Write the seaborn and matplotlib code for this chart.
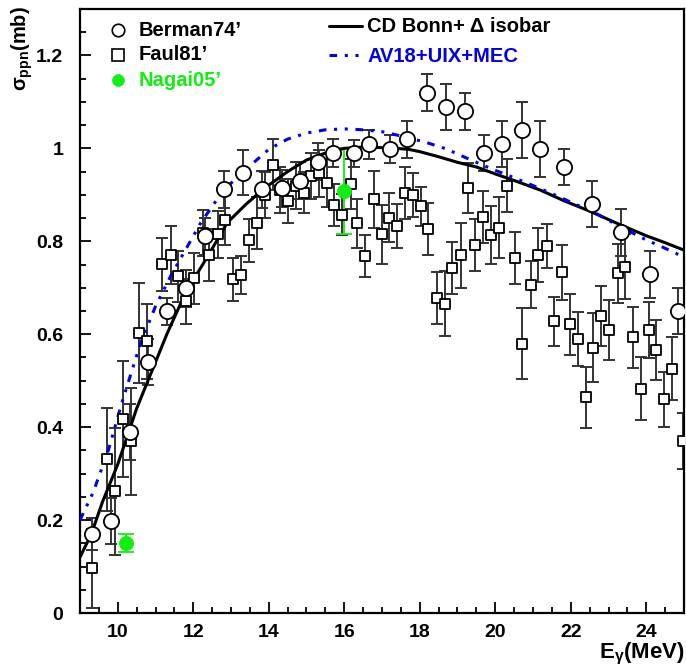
import numpy as np
import pandas as pd
import matplotlib
matplotlib.use("Agg")
import matplotlib.pyplot as plt
import seaborn as sns

# ---------------- data ----------------
berman_x = [9.31, 9.81, 10.32, 10.80, 11.30, 11.80, 12.30, 12.81, 13.31, 13.81,
            14.34, 14.82, 15.31, 15.69, 16.25, 16.66, 17.22, 17.67, 18.20, 18.69,
            19.21, 19.71, 20.19, 20.70, 21.18, 21.83, 22.57, 23.33, 24.09, 24.83]
berman_y = [0.170, 0.198, 0.390, 0.540, 0.649, 0.699, 0.811, 0.912, 0.948, 0.912,
            0.914, 0.930, 0.971, 0.990, 0.989, 1.009, 0.999, 1.020, 1.120, 1.089,
            1.080, 0.990, 1.010, 1.039, 0.999, 0.960, 0.880, 0.819, 0.729, 0.650]
berman_err = [0.035, 0.05, 0.06, 0.05, 0.03, 0.04, 0.04, 0.04, 0.049, 0.04,
              0.04, 0.04, 0.04, 0.03, 0.03, 0.031, 0.03, 0.04, 0.04, 0.05,
              0.04, 0.038, 0.049, 0.06, 0.06, 0.039, 0.049, 0.05, 0.05, 0.05]

faul_x = [9.31, 9.72, 9.92, 10.14, 10.34, 10.56, 10.78, 11.18, 11.40, 11.60,
          11.80, 12.01, 12.26, 12.43, 12.66, 12.84, 13.06, 13.27, 13.48, 13.69,
          13.90, 14.10, 14.31, 14.51, 14.71, 14.93, 15.12, 15.34, 15.54, 15.74,
          15.95, 16.17, 16.35, 16.56, 16.79, 16.99, 17.19, 17.41, 17.61, 17.83,
          18.04, 18.23, 18.46, 18.66, 18.86, 19.09, 19.29, 19.46, 19.68, 19.90,
          20.10, 20.30, 20.51, 20.72, 20.94, 21.14, 21.36, 21.56, 21.76, 21.97,
          22.19, 22.40, 22.60, 22.81, 23.02, 23.24, 23.44, 23.65, 23.85, 24.07,
          24.27, 24.48, 24.69, 24.97]
faul_y = [0.096, 0.331, 0.262, 0.417, 0.370, 0.603, 0.585, 0.751, 0.771, 0.725,
          0.671, 0.720, 0.818, 0.770, 0.815, 0.845, 0.718, 0.727, 0.802, 0.840,
          0.900, 0.965, 0.910, 0.887, 0.920, 0.905, 0.940, 0.946, 0.926, 0.879,
          0.857, 0.924, 0.839, 0.768, 0.890, 0.815, 0.851, 0.833, 0.905, 0.899,
          0.875, 0.826, 0.678, 0.666, 0.743, 0.770, 0.915, 0.792, 0.852, 0.814,
          0.829, 0.920, 0.764, 0.580, 0.707, 0.771, 0.790, 0.628, 0.733, 0.621,
          0.589, 0.464, 0.571, 0.639, 0.609, 0.731, 0.745, 0.593, 0.483, 0.609,
          0.566, 0.460, 0.526, 0.370]
faul_err = [0.085, 0.111, 0.137, 0.125, 0.115, 0.107, 0.081, 0.057, 0.063, 0.055,
            0.048, 0.054, 0.050, 0.056, 0.050, 0.054, 0.046, 0.041, 0.047, 0.056,
            0.050, 0.055, 0.050, 0.047, 0.050, 0.045, 0.050, 0.050, 0.052, 0.045,
            0.044, 0.054, 0.053, 0.045, 0.061, 0.063, 0.052, 0.048, 0.056, 0.047,
            0.041, 0.056, 0.057, 0.070, 0.056, 0.070, 0.054, 0.056, 0.056, 0.062,
            0.066, 0.057, 0.056, 0.077, 0.050, 0.058, 0.047, 0.053, 0.059, 0.066,
            0.058, 0.066, 0.074, 0.065, 0.064, 0.063, 0.070, 0.066, 0.068, 0.060,
            0.065, 0.059, 0.067, 0.060]

nagai_x = [10.21, 16.00]
nagai_y = [0.150, 0.908]
nagai_err = [0.019, 0.092]

cdbonn_x = [9.0, 9.3, 9.6, 10.0, 10.25, 10.5, 10.8, 11.3, 11.8, 12.4, 12.9, 13.4,
            13.9, 14.5, 15.0, 15.5, 16.0, 16.5, 17.2, 17.7, 18.0, 18.5, 19.0, 19.5,
            20.0, 20.6, 21.2, 21.8, 22.5, 23.3, 24.0, 24.5, 25.0]
cdbonn_y = [0.12, 0.17, 0.24, 0.32, 0.38, 0.44, 0.50, 0.60, 0.69, 0.77, 0.84, 0.88,
            0.915, 0.95, 0.975, 0.99, 1.0, 1.003, 1.001, 0.998, 0.993, 0.982, 0.97, 0.96,
            0.945, 0.928, 0.91, 0.888, 0.865, 0.836, 0.812, 0.797, 0.781]

av18_x = [9.0, 9.35, 9.75, 10.1, 10.6, 11.0, 11.4, 12.2, 12.8, 13.4, 14.0, 14.5,
          15.0, 15.5, 16.0, 16.5, 17.0, 17.7, 18.2, 18.7, 19.3, 19.9, 20.4, 21.0,
          21.6, 22.2, 22.6, 23.3, 24.0, 24.5, 25.0]
av18_y = [0.20, 0.26, 0.35, 0.45, 0.58, 0.66, 0.725, 0.84, 0.91, 0.955, 0.998, 1.02,
          1.033, 1.040, 1.042, 1.040, 1.036, 1.023, 1.012, 0.999, 0.977, 0.956, 0.94, 0.92,
          0.899, 0.877, 0.863, 0.832, 0.803, 0.785, 0.766]

x_ticks = [10, 12, 14, 16, 18, 20, 22, 24]
y_ticks = [0, 0.2, 0.4, 0.6, 0.8, 1.0, 1.2]

# ---------------- style ----------------
sns.set_theme(style="ticks")
plt.rcParams["font.family"] = ["Liberation Sans", "DejaVu Sans"]
plt.rcParams["font.weight"] = "bold"
plt.rcParams["text.color"] = "black"
plt.rcParams["xtick.color"] = "black"
plt.rcParams["ytick.color"] = "black"
plt.rcParams["xtick.labelcolor"] = "black"
plt.rcParams["ytick.labelcolor"] = "black"
plt.rcParams["mathtext.fontset"] = "custom"
plt.rcParams["mathtext.rm"] = "Liberation Sans:bold"
plt.rcParams["mathtext.bf"] = "Liberation Sans:bold"
plt.rcParams["mathtext.it"] = "Liberation Sans:bold"
plt.rcParams["mathtext.default"] = "rm"

GREEN = "#11ee11"
FS = 13.5

fig = plt.figure(figsize=(6.86, 6.69), dpi=100)
ax = fig.add_axes([80 / 686, 1 - 613 / 669, 604 / 686, 604 / 669])

df_b = pd.DataFrame({"x": berman_x, "y": berman_y, "e": berman_err})
df_f = pd.DataFrame({"x": faul_x, "y": faul_y, "e": faul_err})
df_n = pd.DataFrame({"x": nagai_x, "y": nagai_y, "e": nagai_err})
df_cd = pd.DataFrame({"x": cdbonn_x, "y": cdbonn_y})
df_av = pd.DataFrame({"x": av18_x, "y": av18_y})

ebkw = dict(fmt="none", elinewidth=1.4, capsize=4.2, capthick=1.4)
ax.errorbar(df_f["x"], df_f["y"], yerr=df_f["e"], ecolor="#333333", zorder=2, **ebkw)
ax.errorbar(df_b["x"], df_b["y"], yerr=df_b["e"], ecolor="#333333", zorder=2, **ebkw)
ax.errorbar(df_n["x"], df_n["y"], yerr=df_n["e"], ecolor=GREEN, zorder=2,
            fmt="none", elinewidth=1.3, capsize=5.5, capthick=1.3)

sns.lineplot(data=df_cd, x="x", y="y", ax=ax, color="black", lw=2.2,
             sort=False, estimator=None, zorder=3)
sns.lineplot(data=df_av, x="x", y="y", ax=ax, color="#0000ee", lw=2.2,
             sort=False, estimator=None, zorder=3, dashes=False,
             linestyle=(0, (2.5, 2.5, 1, 2.5, 1, 2.5)))

sns.scatterplot(data=df_f, x="x", y="y", ax=ax, marker="s", s=62,
                facecolor="white", edgecolor="black", linewidth=1.3, zorder=4)
sns.scatterplot(data=df_b, x="x", y="y", ax=ax, marker="o", s=120,
                facecolor="white", edgecolor="black", linewidth=1.3, zorder=5)
sns.scatterplot(data=df_n, x="x", y="y", ax=ax, marker="o", s=105,
                color=GREEN, edgecolor=GREEN, linewidth=0.5, zorder=6)

ax.set_xlim(9, 25)
ax.set_ylim(0, 1.3)
ax.set_xticks(x_ticks)
ax.set_yticks(y_ticks)
ax.set_xticks(np.arange(9, 25.01, 0.5), minor=True)
ax.set_yticks(np.arange(0, 1.301, 0.05), minor=True)
ax.set_yticklabels(["%g" % v for v in y_ticks], fontsize=FS + 0.5, fontweight="bold",
                   color="black")
ax.set_xticklabels([str(v) for v in x_ticks], fontsize=FS + 0.5, fontweight="bold",
                   color="black")
ax.tick_params(axis="both", which="major", direction="in", length=8, width=1.3,
               top=False, right=False, color="black")
ax.tick_params(axis="both", which="minor", direction="in", length=4, width=1.3,
               top=False, right=False, color="black")
ax.tick_params(axis="y", which="major", pad=12)
ax.tick_params(axis="x", which="major", pad=8)
for s in ax.spines.values():
    s.set_linewidth(1.6)
    s.set_color("black")
ax.set_xlabel("")
ax.set_ylabel("")

# axis titles
fig.text(22 / 686, 1 - 6 / 669, "\u03c3$_{\\mathrm{ppn}}$(mb)", rotation=90,
         ha="center", va="top", fontsize=FS + 1, fontweight="bold", color="black")
fig.text(685 / 686, 1 - 667 / 669, "E$_{\\mathrm{\u03b3}}$(MeV)", ha="right", va="bottom",
         fontsize=FS + 2.5, fontweight="bold", color="black")

# legend (manual, ROOT-like)
def fx(px):
    return px / 686
def fy(py):
    return 1 - py / 669

leg_rows = [("Berman74\u2019", 31, "black"), ("Faul81\u2019", 55, "black"),
            ("Nagai05\u2019", 80, GREEN)]
fig.lines.append(plt.Line2D([fx(118)], [fy(30)], marker="o", ms=9, mfc="white",
                            mec="black", mew=1.2, transform=fig.transFigure))
fig.lines.append(plt.Line2D([fx(118)], [fy(55)], marker="s", ms=8, mfc="white",
                            mec="black", mew=1.2, transform=fig.transFigure))
fig.lines.append(plt.Line2D([fx(118)], [fy(80)], marker="o", ms=8.5, mfc=GREEN,
                            mec=GREEN, mew=0.5, transform=fig.transFigure))
for txt, py, col in leg_rows:
    fig.text(fx(139), fy(py), txt, color=col, fontsize=FS + 1, fontweight="bold",
             ha="left", va="center")

fig.lines.append(plt.Line2D([fx(329), fx(362)], [fy(26), fy(26)], color="black",
                            lw=2.2, transform=fig.transFigure))
fig.lines.append(plt.Line2D([fx(329), fx(362)], [fy(55), fy(55)], color="#0000ee",
                            lw=2.2, ls=(0, (2.5, 2.5, 1, 2.5, 1, 2.5)),
                            transform=fig.transFigure))
fig.text(fx(367), fy(27), "CD Bonn+ \u0394 isobar", color="black", fontsize=FS + 1,
         fontweight="bold", ha="left", va="center")
fig.text(fx(367), fy(56), "AV18+UIX+MEC", color="#0000ee", fontsize=FS + 1,
         fontweight="bold", ha="left", va="center")

fig.savefig("out.png", dpi=100)
